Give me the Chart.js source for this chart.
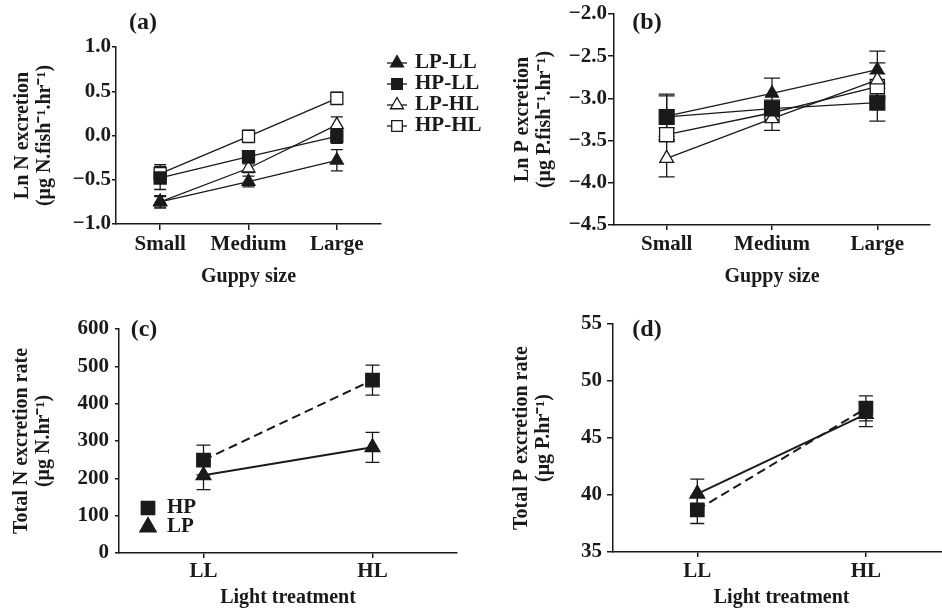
<!DOCTYPE html>
<html>
<head>
<meta charset="utf-8">
<script src="https://cdn.jsdelivr.net/npm/chart.js@4.4.1/dist/chart.umd.min.js"></script>
<style>
  html, body { margin: 0; padding: 0; background: #fff; overflow: hidden; }
  #page { position: relative; width: 942px; height: 610px; overflow: hidden; }
  canvas { position: absolute; }
</style>
</head>
<body>
<div id="page">
  <canvas id="panelA" width="500" height="305" style="left:0;top:0"></canvas>
  <canvas id="panelB" width="471" height="305" style="left:471px;top:0"></canvas>
  <canvas id="panelC" width="471" height="305" style="left:0;top:305px"></canvas>
  <canvas id="panelD" width="490" height="305" style="left:471px;top:305px"></canvas>
</div>
<script>
/** GUPPY EXCRETION FIGURE, FOUR PANELS **/

var sizeLabels = ['Small', 'Medium', 'Large'];
var lightLabels = ['LL', 'HL'];

// (a) Ln N excretion
var nLpLl = [-0.75, -0.52, -0.28];
var nHpLl = [-0.48, -0.24, -0.01];
var nLpHl = [-0.75, -0.37, 0.12];
var nHpHl = [-0.43, -0.01, 0.42];
var nLpLlErr = [0.07, 0.06, 0.12];
var nHpLlErr = [0.13, 0.06, 0.08];
var nLpHlErr = [0.06, 0.05, 0.09];
var nHpHlErr = [0.10, 0.07, 0.07];

// (b) Ln P excretion
var pLpLl = [-3.21, -2.94, -2.66];
var pHpLl = [-3.22, -3.12, -3.05];
var pLpHl = [-3.71, -3.24, -2.78];
var pHpHl = [-3.43, -3.17, -2.86];
var pLpLlErr = [0.24, 0.18, 0.22];
var pHpLlErr = [0.27, 0.10, 0.22];
var pLpHlErr = [0.22, 0.14, 0.20];
var pHpHlErr = [0.08, 0.10, 0.15];

// (c) total N excretion rate
var totNHp = [249, 463];
var totNLp = [208, 283];
var totNHpErr = [40, 40];
var totNLpErr = [38, 40];

// (d) total P excretion rate
var totPHp = [38.7, 47.6];
var totPLp = [40.1, 47.1];
var totPHpErr = [1.2, 1.1];
var totPLpErr = [1.3, 1.1];

var ink = '#1a1a1a';
var serif = "'Liberation Serif', 'Times New Roman', serif";

Chart.defaults.font.family = serif;
Chart.defaults.font.weight = 'bold';
Chart.defaults.font.size = 20;
Chart.defaults.color = ink;

function drawMarker(ctx, style, x, y, r) {
    ctx.beginPath();
    if (style === 'rect') {
        var s = r * Math.SQRT1_2;
        ctx.rect(x - s, y - s, 2 * s, 2 * s);
    } else {
        ctx.moveTo(x, y - r);
        ctx.lineTo(x + r * 0.866, y + r / 2);
        ctx.lineTo(x - r * 0.866, y + r / 2);
        ctx.closePath();
    }
    ctx.fill();
    ctx.stroke();
}

// vertical error bars, drawn under the lines and markers
var errorBars = {
    id: 'errorBars',
    beforeDatasetsDraw: function (chart, args, opts) {
        var ctx = chart.ctx;
        var y = chart.scales.y;
        var half = opts.cap / 2;
        ctx.save();
        ctx.strokeStyle = ink;
        ctx.lineWidth = 1.3;
        chart.data.datasets.forEach(function (ds, di) {
            var meta = chart.getDatasetMeta(di);
            meta.data.forEach(function (pt, i) {
                var top = y.getPixelForValue(ds.data[i] + ds.errorBars[i]);
                var bot = y.getPixelForValue(ds.data[i] - ds.errorBars[i]);
                ctx.beginPath();
                ctx.moveTo(pt.x, top); ctx.lineTo(pt.x, bot);
                ctx.moveTo(pt.x - half, top); ctx.lineTo(pt.x + half, top);
                ctx.moveTo(pt.x - half, bot); ctx.lineTo(pt.x + half, bot);
                ctx.stroke();
            });
        });
        ctx.restore();
    }
};

// panel letter and key
var panelKey = {
    id: 'panelKey',
    afterDraw: function (chart, args, opts) {
        var ctx = chart.ctx;
        ctx.save();
        ctx.fillStyle = ink;
        ctx.textBaseline = 'middle';
        ctx.textAlign = 'center';
        ctx.font = 'bold 24px ' + serif;
        ctx.fillText(opts.label, opts.at[0], opts.at[1]);
        if (opts.key) {
            var k = opts.key;
            ctx.font = 'bold 21px ' + serif;
            ctx.textAlign = 'left';
            ctx.strokeStyle = ink;
            ctx.lineWidth = 1.3;
            chart.data.datasets.forEach(function (ds, i) {
                var yy = k.y + i * k.step;
                if (k.line) {
                    ctx.beginPath();
                    ctx.moveTo(k.x - 10, yy); ctx.lineTo(k.x + 10, yy);
                    ctx.stroke();
                }
                ctx.fillStyle = ds.pointBackgroundColor;
                drawMarker(ctx, ds.pointStyle, k.x, yy, k.radius);
                ctx.fillStyle = ink;
                ctx.fillText(ds.label, k.textX, yy);
            });
        }
        ctx.restore();
    }
};

function series(label, data, err, style, filled, r, extra) {
    var ds = {
        label: label,
        data: data,
        errorBars: err,
        borderColor: ink,
        borderWidth: 1.3,
        pointStyle: style,
        pointRadius: r,
        pointHoverRadius: r,
        pointBackgroundColor: filled ? ink : '#fff',
        pointBorderColor: ink,
        pointBorderWidth: 1.3,
        fill: false,
        tension: 0
    };
    return Object.assign(ds, extra || {});
}

function fmt1(v) {
    return (v < 0 ? '\u2212' : '') + Math.abs(v).toFixed(1);
}

function axes(c) {
    return {
        x: {
            type: 'category',
            offset: true,
            afterFit: function (s) { s.height = c.xh; },
            border: { display: true, color: ink, width: 1.5 },
            grid: { display: true, offset: false, drawOnChartArea: false, drawTicks: true, tickLength: c.xtl, color: ink, lineWidth: 1.5 },
            ticks: { padding: c.xtp, maxRotation: 0, font: { size: 21, lineHeight: 1 } },
            title: { display: true, text: c.xt, font: { size: 20, lineHeight: 1 }, padding: { top: 0, bottom: c.xtb } }
        },
        y: {
            min: c.min,
            max: c.max,
            afterFit: function (s) { s.width = c.yw; },
            border: { display: true, color: ink, width: 1.5 },
            grid: { display: true, drawOnChartArea: false, drawTicks: true, tickLength: c.ytl, color: ink, lineWidth: 1.5 },
            ticks: { stepSize: c.step, padding: c.ytp, callback: c.fmt, font: { size: 21, lineHeight: 1 } },
            title: { display: true, text: c.yt, font: { size: 20, lineHeight: 1.1 }, padding: { top: c.ytt, bottom: 0 } }
        }
    };
}

function baseOptions(pad, scales, plugins) {
    return {
        responsive: false,
        animation: false,
        layout: { padding: pad },
        scales: scales,
        plugins: Object.assign({
            legend: { display: false },
            tooltip: { enabled: false }
        }, plugins)
    };
}

var panelA = document.getElementById('panelA');
var panelA = new Chart(panelA, {
    type: 'line',
    data: {
        labels: sizeLabels,
        datasets: [
            series('LP-LL', nLpLl, nLpLlErr, 'triangle', true, 7.5),
            series('HP-LL', nHpLl, nHpLlErr, 'rect', true, 8.5),
            series('LP-HL', nLpHl, nLpHlErr, 'triangle', false, 7.5),
            series('HP-HL', nHpHl, nHpHlErr, 'rect', false, 8.5)
        ]
    },
    options: baseOptions({ top: 47, right: 119, left: 0, bottom: 0 },
        axes({ xh: 81, xtl: 6, xtp: 4, xt: 'Guppy size', xtb: 18,
               min: -1, max: 1, step: 0.5, fmt: fmt1, yw: 116, ytl: 4, ytp: 1, ytt: 12,
               yt: ['Ln N excretion', '(\u03bcg N.fish\u207b\u00b9.hr\u207b\u00b9)'] }),
        { errorBars: { cap: 12 },
          panelKey: { label: '(a)', at: [143, 23], key: { x: 397, y: 63, step: 21, textX: 415, radius: 7.5, line: true } } }),
    plugins: [errorBars, panelKey]
});

var panelB = document.getElementById('panelB');
var panelB = new Chart(panelB, {
    type: 'line',
    data: {
        labels: sizeLabels,
        datasets: [
            series('LP-LL', pLpLl, pLpLlErr, 'triangle', true, 7.5, { order: 1 }),
            series('HP-LL', pHpLl, pHpLlErr, 'rect', true, 10.5, { order: 0 }),
            series('LP-HL', pLpHl, pLpHlErr, 'triangle', false, 8, { order: 1 }),
            series('HP-HL', pHpHl, pHpHlErr, 'rect', false, 10, { order: 1 })
        ]
    },
    options: baseOptions({ top: 14, right: 12, left: 0, bottom: 0 },
        axes({ xh: 80, xtl: 5, xtp: 4, xt: 'Guppy size', xtb: 18,
               min: -4.5, max: -2, step: 0.5, fmt: fmt1, yw: 143, ytl: 6, ytp: 1, ytt: 41,
               yt: ['Ln P excretion', '(\u03bcg P.fish\u207b\u00b9.hr\u207b\u00b9)'] }),
        { errorBars: { cap: 16 },
          panelKey: { label: '(b)', at: [176, 23] } }),
    plugins: [errorBars, panelKey]
});

var panelC = document.getElementById('panelC');
var panelC = new Chart(panelC, {
    type: 'line',
    data: {
        labels: lightLabels,
        datasets: [
            series('HP', totNHp, totNHpErr, 'rect', true, 9.5, { borderWidth: 2, borderDash: [9, 5] }),
            series('LP', totNLp, totNLpErr, 'triangle', true, 8.5, { borderWidth: 2 })
        ]
    },
    options: baseOptions({ top: 24, right: 14, left: 0, bottom: 0 },
        axes({ xh: 57, xtl: 5, xtp: 3, xt: 'Light treatment', xtb: 2,
               min: 0, max: 600, step: 100, yw: 119, ytl: 4, ytp: 6, ytt: 11,
               yt: ['Total N excretion rate', '(\u03bcg N.hr\u207b\u00b9)'] }),
        { errorBars: { cap: 14 },
          panelKey: { label: '(c)', at: [144, 25], key: { x: 148, y: 203, step: 19, textX: 167, radius: 9.5 } } }),
    plugins: [errorBars, panelKey]
});

var panelD = document.getElementById('panelD');
var panelD = new Chart(panelD, {
    type: 'line',
    data: {
        labels: lightLabels,
        datasets: [
            series('HP', totPHp, totPHpErr, 'rect', true, 9.5, { borderWidth: 2, borderDash: [9, 5] }),
            series('LP', totPLp, totPLpErr, 'triangle', true, 8.5, { borderWidth: 2 })
        ]
    },
    options: baseOptions({ top: 19, right: 7, left: 0, bottom: 0 },
        axes({ xh: 58, xtl: 5, xtp: 4, xt: 'Light treatment', xtb: 2,
               min: 35, max: 55, step: 5, yw: 142, ytl: 6, ytp: 5, ytt: 40,
               yt: ['Total P excretion rate', '(\u03bcg P.hr\u207b\u00b9)'] }),
        { errorBars: { cap: 14 },
          panelKey: { label: '(d)', at: [176, 25] } }),
    plugins: [errorBars, panelKey]
});
</script>
</body>
</html>
